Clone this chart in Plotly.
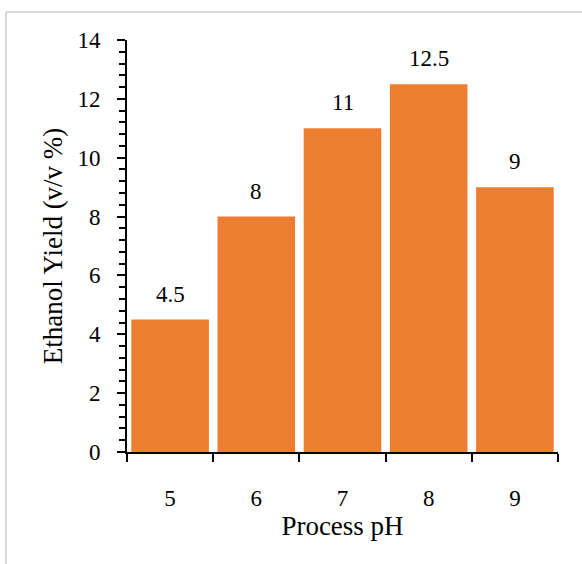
import plotly.graph_objects as go

ph = ["5", "6", "7", "8", "9"]
yield_vals = [4.5, 8, 11, 12.5, 9]
labels = ["4.5", "8", "11", "12.5", "9"]

FONT = "Liberation Serif"
L, R, T, B = 127, 24, 40, 112
W, H = 582, 564
pw = W - L - R
ph_ = H - T - B

fig = go.Figure(go.Bar(x=ph, y=yield_vals, marker=dict(color="#ED7D31", line=dict(width=0)),
                       hoverinfo="x+y"))

for i, (yv, t) in enumerate(zip(yield_vals, labels)):
    fig.add_annotation(x=i, y=yv, text=t, showarrow=False, yanchor="bottom",
                       yshift=11, font=dict(family=FONT, size=23, color="#000000"))

# light gray frame (top and left edges)
fx0 = (6 - L) / pw
fy1 = (H - B - 12) / ph_
fig.add_shape(type="line", xref="paper", yref="paper", x0=fx0, x1=(W + 10 - L) / pw, y0=fy1, y1=fy1,
              line=dict(color="#D9D9D9", width=2))
fig.add_shape(type="line", xref="paper", yref="paper", x0=fx0, x1=fx0, y0=fy1, y1=-(B + 10) / ph_,
              line=dict(color="#D9D9D9", width=2))

fig.update_layout(
    width=W, height=H,
    margin=dict(l=L, r=R, t=T, b=B),
    paper_bgcolor="white", plot_bgcolor="white",
    bargap=0.1,
    showlegend=False,
    font=dict(family=FONT, color="#000000", size=22),
    xaxis=dict(
        type="category",
        range=[-0.5, len(ph) - 0.5],
        title=dict(text="Process pH", font=dict(family=FONT, size=27), standoff=0),
        tickfont=dict(family=FONT, size=23, color="#000000"),
        showline=True, linecolor="#000000", linewidth=2,
        ticks="outside", tickson="boundaries", ticklen=8, tickwidth=2, tickcolor="#000000",
        ticklabelstandoff=24,
        showgrid=False, zeroline=False,
    ),
    yaxis=dict(
        title=dict(text="Ethanol Yield (v/v %)", font=dict(family=FONT, size=27), standoff=7),
        tickfont=dict(family=FONT, size=23, color="#000000"),
        range=[0, 14], dtick=2, tick0=0,
        showline=True, linecolor="#000000", linewidth=2,
        ticks="outside", ticklen=8, tickwidth=2, tickcolor="#000000",
        ticklabelstandoff=12,
        minor=dict(dtick=0.4, ticks="outside", ticklen=6, tickwidth=2, tickcolor="#000000", showgrid=False),
        showgrid=False, zeroline=False,
    ),
)

fig.write_html("out.html")
